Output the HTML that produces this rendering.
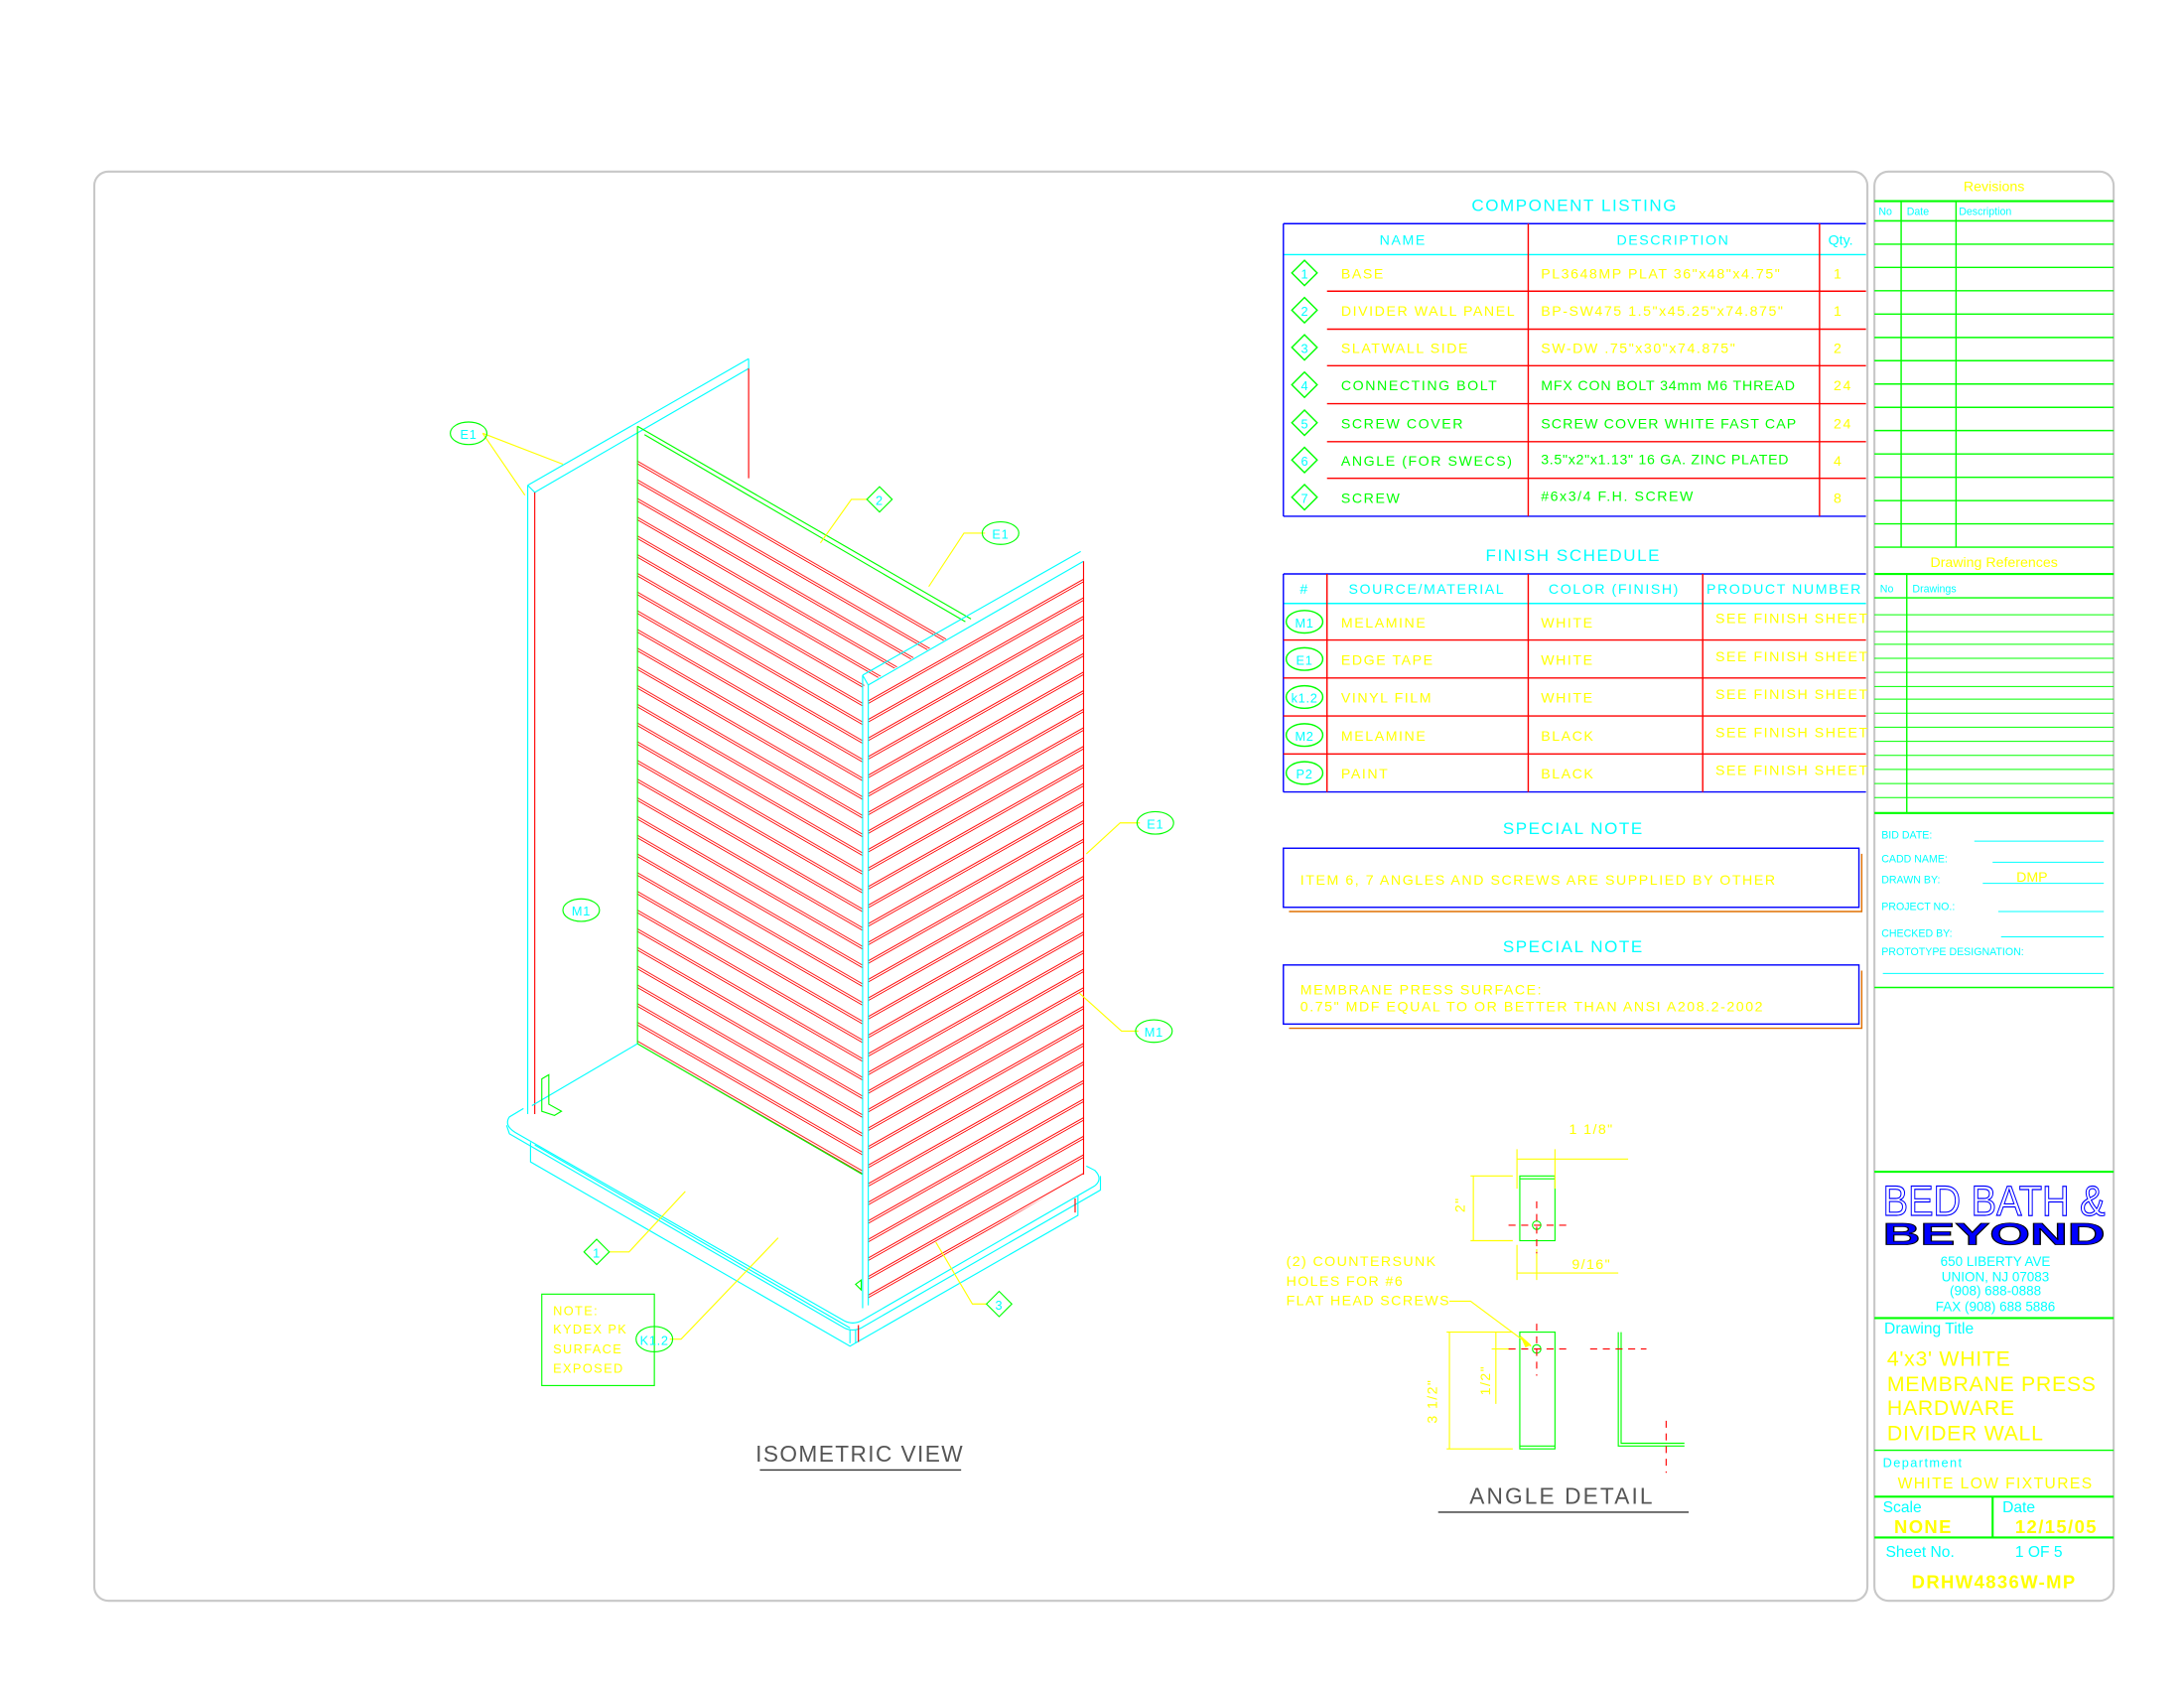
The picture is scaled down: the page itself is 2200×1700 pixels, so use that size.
<!DOCTYPE html>
<html><head><meta charset="utf-8"><style>
html,body{margin:0;padding:0;background:#fff;}
svg{display:block;}
text{font-family:"Liberation Sans",sans-serif;}
</style></head><body>
<svg width="2200" height="1700" viewBox="0 0 1552 1200" preserveAspectRatio="none" xmlns="http://www.w3.org/2000/svg">
<defs>
<pattern id="slL" width="20" height="13.3" patternUnits="userSpaceOnUse" patternTransform="translate(0,318) skewY(30)">
<line x1="0" y1="1" x2="20" y2="1" stroke="#f00" stroke-width="0.7"/><line x1="0" y1="2.8" x2="20" y2="2.8" stroke="#f00" stroke-width="0.7"/></pattern>
<pattern id="slR" width="20" height="13.2" patternUnits="userSpaceOnUse" patternTransform="translate(0,490) skewY(-29.5)">
<line x1="0" y1="1" x2="20" y2="1" stroke="#f00" stroke-width="0.7"/><line x1="0" y1="2.8" x2="20" y2="2.8" stroke="#f00" stroke-width="0.7"/></pattern>
</defs>
<rect width="1552" height="1200" fill="#fff"/>
<!-- borders -->
<rect x="67" y="122" width="1260" height="1016" rx="10" fill="none" stroke="#c8c8c8" stroke-width="1.5"/>
<rect x="1332" y="122" width="170" height="1016" rx="10" fill="none" stroke="#c8c8c8" stroke-width="1.5"/>

<!-- COMPONENT LISTING -->
<g font-size="10" letter-spacing="1.1">
<text x="1119" y="150" fill="#0ff" font-size="12" text-anchor="middle">COMPONENT LISTING</text>
<line x1="912" y1="159" x2="1326" y2="159" stroke="#00f"/>
<line x1="912" y1="181" x2="1326" y2="181" stroke="#0ff"/>
<line x1="912" y1="367" x2="1326" y2="367" stroke="#00f"/>
<line x1="912" y1="159" x2="912" y2="367" stroke="#00f"/>
<g stroke="#f00"><line x1="943" y1="207" x2="1326" y2="207"/><line x1="943" y1="234" x2="1326" y2="234"/><line x1="943" y1="260" x2="1326" y2="260"/><line x1="943" y1="287" x2="1326" y2="287"/><line x1="943" y1="314" x2="1326" y2="314"/><line x1="943" y1="340" x2="1326" y2="340"/>
<line x1="1086" y1="159" x2="1086" y2="367"/><line x1="1293" y1="159" x2="1293" y2="367"/></g>
<text x="997" y="174" fill="#0ff" text-anchor="middle">NAME</text>
<text x="1189" y="174" fill="#0ff" text-anchor="middle">DESCRIPTION</text>
<text x="1308" y="174" fill="#0ff" text-anchor="middle" letter-spacing="0">Qty.</text>
<g fill="none" stroke="#0f0">
<path d="M918 194L927 185L936 194L927 203Z"/><path d="M918 220.5L927 211.5L936 220.5L927 229.5Z"/><path d="M918 247L927 238L936 247L927 256Z"/><path d="M918 273.5L927 264.5L936 273.5L927 282.5Z"/><path d="M918 300.5L927 291.5L936 300.5L927 309.5Z"/><path d="M918 327L927 318L936 327L927 336Z"/><path d="M918 353.5L927 344.5L936 353.5L927 362.5Z"/></g>
<g fill="#0ff" text-anchor="middle" font-size="9" letter-spacing="0"><text x="927" y="198">1</text><text x="927" y="224.5">2</text><text x="927" y="251">3</text><text x="927" y="277.5">4</text><text x="927" y="304.5">5</text><text x="927" y="331">6</text><text x="927" y="357.5">7</text></g>
<g fill="#ff0"><text x="953" y="198">BASE</text><text x="953" y="224.5">DIVIDER  WALL  PANEL</text><text x="953" y="251">SLATWALL  SIDE</text>
<text x="1095" y="198">PL3648MP  PLAT  36"x48"x4.75"</text><text x="1095" y="224.5">BP-SW475  1.5"x45.25"x74.875"</text><text x="1095" y="251">SW-DW  .75"x30"x74.875"</text>
<text x="1303" y="198">1</text><text x="1303" y="224.5">1</text><text x="1303" y="251">2</text><text x="1303" y="277.5">24</text><text x="1303" y="304.5">24</text><text x="1303" y="331">4</text><text x="1303" y="357.5">8</text></g>
<g fill="#0f0"><text x="953" y="277.5">CONNECTING  BOLT</text><text x="953" y="304.5">SCREW  COVER</text><text x="953" y="331">ANGLE  (FOR  SWECS)</text><text x="953" y="357.5">SCREW</text>
<text x="1095" y="277.5" letter-spacing="0.6">MFX  CON  BOLT  34mm  M6  THREAD</text><text x="1095" y="304.5" letter-spacing="0.8">SCREW  COVER  WHITE  FAST  CAP</text><text x="1095" y="330" letter-spacing="0.5">3.5"x2"x1.13"  16  GA.  ZINC  PLATED</text><text x="1095" y="356">#6x3/4  F.H.  SCREW</text></g>

<!-- FINISH SCHEDULE -->
<text x="1118" y="399" fill="#0ff" font-size="12" text-anchor="middle">FINISH SCHEDULE</text>
<line x1="912" y1="408" x2="1326" y2="408" stroke="#00f"/>
<line x1="912" y1="429" x2="1326" y2="429" stroke="#0ff"/>
<line x1="912" y1="563" x2="1326" y2="563" stroke="#00f"/>
<line x1="912" y1="408" x2="912" y2="563" stroke="#00f"/>
<g stroke="#f00"><line x1="912" y1="455" x2="1326" y2="455"/><line x1="912" y1="482" x2="1326" y2="482"/><line x1="912" y1="509" x2="1326" y2="509"/><line x1="912" y1="536" x2="1326" y2="536"/>
<line x1="943" y1="408" x2="943" y2="563"/><line x1="1086" y1="408" x2="1086" y2="563"/><line x1="1210" y1="408" x2="1210" y2="563"/></g>
<g fill="#0ff"><text x="927" y="422" text-anchor="middle">#</text><text x="1014" y="422" text-anchor="middle">SOURCE/MATERIAL</text><text x="1147" y="422" text-anchor="middle">COLOR  (FINISH)</text><text x="1268" y="422" text-anchor="middle">PRODUCT  NUMBER</text></g>
<g fill="none" stroke="#0f0"><ellipse cx="927" cy="442" rx="13" ry="8"/><ellipse cx="927" cy="468.5" rx="13" ry="8"/><ellipse cx="927" cy="495.5" rx="13" ry="8"/><ellipse cx="927" cy="522.5" rx="13" ry="8"/><ellipse cx="927" cy="549.5" rx="13" ry="8"/></g>
<g fill="#0ff" text-anchor="middle" font-size="9" letter-spacing="0.5"><text x="927" y="446">M1</text><text x="927" y="472.5">E1</text><text x="927" y="499.5">k1.2</text><text x="927" y="526.5">M2</text><text x="927" y="553.5">P2</text></g>
<g fill="#ff0"><text x="953" y="446">MELAMINE</text><text x="953" y="472.5">EDGE  TAPE</text><text x="953" y="499.5">VINYL  FILM</text><text x="953" y="526.5">MELAMINE</text><text x="953" y="553.5">PAINT</text>
<text x="1095" y="446">WHITE</text><text x="1095" y="472.5">WHITE</text><text x="1095" y="499.5">WHITE</text><text x="1095" y="526.5">BLACK</text><text x="1095" y="553.5">BLACK</text>
<text x="1219" y="443">SEE  FINISH  SHEET</text><text x="1219" y="470">SEE  FINISH  SHEET</text><text x="1219" y="497">SEE  FINISH  SHEET</text><text x="1219" y="524">SEE  FINISH  SHEET</text><text x="1219" y="551">SEE  FINISH  SHEET</text></g>

<!-- SPECIAL NOTES -->
<text x="1118" y="593" fill="#0ff" font-size="12" text-anchor="middle">SPECIAL NOTE</text>
<rect x="912" y="603" width="409" height="42" fill="none" stroke="#00f"/>
<path d="M916 648H1323V607" fill="none" stroke="#e07000"/>
<text x="924" y="629" fill="#ff0">ITEM  6,  7  ANGLES  AND  SCREWS  ARE  SUPPLIED  BY  OTHER</text>
<text x="1118" y="677" fill="#0ff" font-size="12" text-anchor="middle">SPECIAL NOTE</text>
<rect x="912" y="686" width="409" height="42" fill="none" stroke="#00f"/>
<path d="M916 731H1323V690" fill="none" stroke="#e07000"/>
<text x="924" y="707" fill="#ff0">MEMBRANE  PRESS  SURFACE:</text>
<text x="924" y="719" fill="#ff0">0.75"  MDF  EQUAL  TO  OR  BETTER  THAN  ANSI  A208.2-2002</text>
</g>

<!-- ISOMETRIC DRAWING -->
<g fill="none" stroke-width="0.8">
<!-- slat faces -->
<polygon points="453,318 680,450 613,488 613,835 453,742" fill="url(#slL)" stroke="none"/>
<polygon points="617,490 770,402 770,835 617,925" fill="url(#slR)" stroke="none"/>
<!-- left end panel -->
<g stroke="#0ff"><path d="M375 345L532 255M380 350L532 262M375 345L380 350M532 255L532 262"/>
<line x1="375" y1="345" x2="375" y2="792"/></g>
<line x1="380" y1="350" x2="380" y2="792" stroke="#f00"/>
<line x1="532" y1="262" x2="532" y2="340" stroke="#f00"/>
<!-- divider -->
<g stroke="#0f0"><line x1="453" y1="303" x2="453" y2="742"/><path d="M453 303L690 440M458 309L686 442M453 742L613 835"/></g>
<!-- right end panel -->
<g stroke="#0ff"><path d="M613 480L768 392M617 487L770 399M613 480L617 487"/><line x1="613" y1="480" x2="613" y2="930"/><line x1="617" y1="487" x2="617" y2="928"/></g>
<line x1="770" y1="399" x2="770" y2="835" stroke="#f00"/>
<!-- base -->
<g stroke="#0ff">
<line x1="453" y1="742" x2="378" y2="786"/>
<path d="M372 788L362 794Q358 800 366 805L600 939Q606 942 612 939L778 843Q784 838 778 832L772 829"/>
<path d="M360 800L362 806L600 944Q606 947 612 944L782 846L782 836"/>
<path d="M377 812L377 826L604 957L766 864L766 850"/>
<path d="M380 814L604 944M604 945L604 955M608 945L608 955"/>
</g>
<line x1="764" y1="852" x2="764" y2="862" stroke="#f00"/>
<line x1="610" y1="942" x2="610" y2="954" stroke="#f00"/>
<!-- small angle -->
<path d="M385 790L385 767L390 764L390 785L399 790L394 793Z" stroke="#0f0"/>
<path d="M608 913L612 910L612 917Z" stroke="#0f0"/>
<!-- leaders -->
<g stroke="#ff0"><path d="M343 308L400 330M343 308L373 352"/><path d="M616 355L605 355L583 386"/><path d="M700 379L685 379L660 417"/><path d="M810 585L796 585L772 607"/><path d="M809 733L797 733L767 706"/><path d="M433 890L447 890L487 847"/><path d="M476 952L484 952L553 880"/><path d="M701 927L691 927L665 883"/></g>
<!-- tags -->
<g stroke="#0f0"><ellipse cx="333" cy="308" rx="13" ry="8"/><ellipse cx="711" cy="379" rx="13" ry="8"/><ellipse cx="821" cy="585" rx="13" ry="8"/><ellipse cx="413" cy="647" rx="13" ry="8"/><ellipse cx="820" cy="733" rx="13" ry="8"/><ellipse cx="465" cy="952" rx="13" ry="9"/>
<path d="M616 355L625 346L634 355L625 364Z"/><path d="M415 890L424 881L433 890L424 899Z"/><path d="M701 927L710 918L719 927L710 936Z"/>
<rect x="385" y="920" width="80" height="65"/></g>
</g>
<g fill="#0ff" font-size="9" text-anchor="middle" letter-spacing="0.5"><text x="333" y="312">E1</text><text x="711" y="383">E1</text><text x="821" y="589">E1</text><text x="413" y="651">M1</text><text x="820" y="737">M1</text><text x="465" y="956">K1.2</text><text x="625" y="359">2</text><text x="424" y="894">1</text><text x="710" y="931">3</text></g>
<g fill="#ff0" font-size="9" letter-spacing="1"><text x="393" y="935">NOTE:</text><text x="393" y="948">KYDEX  PK</text><text x="393" y="962">SURFACE</text><text x="393" y="976">EXPOSED</text></g>
<text x="611" y="1039" fill="#555" font-size="16" text-anchor="middle" letter-spacing="1">ISOMETRIC  VIEW</text>
<line x1="540" y1="1045" x2="683" y2="1045" stroke="#333"/>

<!-- ANGLE DETAIL -->
<g fill="none" stroke-width="0.8">
<g stroke="#0f0"><rect x="1080" y="836" width="25" height="46"/><line x1="1080" y1="838" x2="1105" y2="838"/><rect x="1080" y="947" width="25" height="83"/><line x1="1080" y1="1028" x2="1105" y2="1028"/>
<circle cx="1092" cy="871" r="3"/><circle cx="1092" cy="959" r="3"/><path d="M1150 947V1028H1197M1152 947V1026H1197"/></g>
<g stroke="#ff0"><path d="M1078 824H1157M1078 817V845M1105 817V845"/><path d="M1047 836V882M1045 836H1075M1045 882H1075"/><path d="M1078 905H1150M1078 885V910M1092 888V910"/>
<path d="M1030 947V1030M1028 947H1075M1028 1030H1075"/><path d="M1063 947V998M1060 959H1075"/><path d="M1030 925H1045L1088 957"/></g>
<g stroke="#f00" stroke-dasharray="5,4"><path d="M1072 871H1113M1092 854V891"/><path d="M1072 959H1113M1092 941V978M1130 959H1170M1184 1010V1047"/></g>
</g>
<polygon points="1080,949 1088,956 1084,958" fill="#ff0"/>
<g fill="#ff0" font-size="10" letter-spacing="1"><text x="1115" y="806">1  1/8"</text><text x="1117" y="902">9/16"</text>
<text x="914" y="900">(2)  COUNTERSUNK</text><text x="914" y="914">HOLES  FOR  #6</text><text x="914" y="928">FLAT  HEAD  SCREWS</text>
<text transform="translate(1041,862) rotate(-90)">2"</text><text transform="translate(1021,1012) rotate(-90)">3  1/2"</text><text transform="translate(1059,992) rotate(-90)">1/2"</text></g>
<text x="1110" y="1069" fill="#555" font-size="16" text-anchor="middle" letter-spacing="1.5">ANGLE  DETAIL</text>
<line x1="1022" y1="1075" x2="1200" y2="1075" stroke="#333"/>

<!-- RIGHT PANEL -->
<g stroke="#0f0" fill="none">
<line x1="1332" y1="143" x2="1502" y2="143" stroke-width="1.5"/><line x1="1332" y1="157" x2="1502" y2="157" stroke-width="1.2"/>
<path d="M1332 173.6H1502M1332 190.1H1502M1332 206.7H1502M1332 223.3H1502M1332 239.9H1502M1332 256.4H1502M1332 273H1502M1332 289.6H1502M1332 306.1H1502M1332 322.7H1502M1332 339.3H1502M1332 355.9H1502M1332 372.4H1502"/>
<line x1="1332" y1="389" x2="1502" y2="389"/>
<path d="M1351 143V389M1390 143V389"/>
<line x1="1332" y1="408" x2="1502" y2="408" stroke-width="1.5"/><line x1="1332" y1="425" x2="1502" y2="425"/>
<path d="M1332 437H1502M1332 449H1502M1332 458H1502M1332 468H1502M1332 478H1502M1332 488H1502M1332 497H1502M1332 507H1502M1332 517H1502M1332 527H1502M1332 537H1502M1332 547H1502M1332 557H1502M1332 567H1502" stroke-width="0.7"/>
<path d="M1355 408V578"/>
<line x1="1332" y1="578" x2="1502" y2="578" stroke-width="1.5"/>
<line x1="1332" y1="702" x2="1502" y2="702"/>
<line x1="1332" y1="833" x2="1502" y2="833" stroke-width="1.5"/>
<line x1="1332" y1="937" x2="1502" y2="937" stroke-width="1.5"/>
<line x1="1332" y1="1031" x2="1502" y2="1031"/>
<line x1="1332" y1="1064" x2="1502" y2="1064" stroke-width="1.5"/>
<line x1="1416" y1="1064" x2="1416" y2="1093" stroke-width="1.5"/>
<line x1="1332" y1="1093" x2="1502" y2="1093" stroke-width="1.5"/>
</g>
<g stroke="#0ff" stroke-width="0.7"><path d="M1403 598H1495M1416 613H1495M1409 628H1495M1420 648H1495M1422 666H1495M1338 692H1495"/></g>
<g font-size="10" fill="#ff0" text-anchor="middle"><text x="1417" y="136">Revisions</text><text x="1417" y="403">Drawing References</text></g>
<g font-size="7.5" fill="#0ff"><text x="1335" y="153">No</text><text x="1355" y="153">Date</text><text x="1392" y="153">Description</text><text x="1336" y="421">No</text><text x="1359" y="421">Drawings</text>
<text x="1337" y="596">BID DATE:</text><text x="1337" y="613">CADD NAME:</text><text x="1337" y="628">DRAWN BY:</text><text x="1337" y="647">PROJECT NO.:</text><text x="1337" y="666">CHECKED BY:</text><text x="1337" y="679">PROTOTYPE DESIGNATION:</text></g>
<text x="1444" y="627" font-size="10" fill="#ff0" text-anchor="middle">DMP</text>
<text x="1338" y="864" font-size="30" fill="none" stroke="#00f" stroke-width="0.8" textLength="158" lengthAdjust="spacingAndGlyphs">BED BATH &amp;</text>
<text x="1338" y="885" font-size="22" font-weight="bold" fill="#00f" stroke="#000" stroke-width="0.6" textLength="158" lengthAdjust="spacingAndGlyphs">BEYOND</text>
<g font-size="9.5" fill="#0ff" text-anchor="middle"><text x="1418" y="900">650 LIBERTY AVE</text><text x="1418" y="911">UNION, NJ 07083</text><text x="1418" y="921">(908) 688-0888</text><text x="1418" y="932">FAX (908) 688 5886</text></g>
<text x="1339" y="948" font-size="11" fill="#0ff">Drawing Title</text>
<g font-size="15" fill="#ff0" letter-spacing="0.5"><text x="1341" y="971">4'x3' WHITE</text><text x="1341" y="989">MEMBRANE PRESS</text><text x="1341" y="1006">HARDWARE</text><text x="1341" y="1024">DIVIDER WALL</text></g>
<text x="1338" y="1043" font-size="9" fill="#0ff" letter-spacing="1">Department</text>
<text x="1418" y="1058" font-size="11" fill="#ff0" text-anchor="middle" letter-spacing="1">WHITE LOW FIXTURES</text>
<g font-size="11" fill="#0ff"><text x="1338" y="1075">Scale</text><text x="1423" y="1075">Date</text><text x="1340" y="1107">Sheet No.</text><text x="1432" y="1107">1 OF 5</text></g>
<g font-size="13" fill="#ff0" font-weight="bold" letter-spacing="1"><text x="1346" y="1090">NONE</text><text x="1432" y="1090">12/15/05</text><text x="1417" y="1129" text-anchor="middle">DRHW4836W-MP</text></g>
</svg>
</body></html>
